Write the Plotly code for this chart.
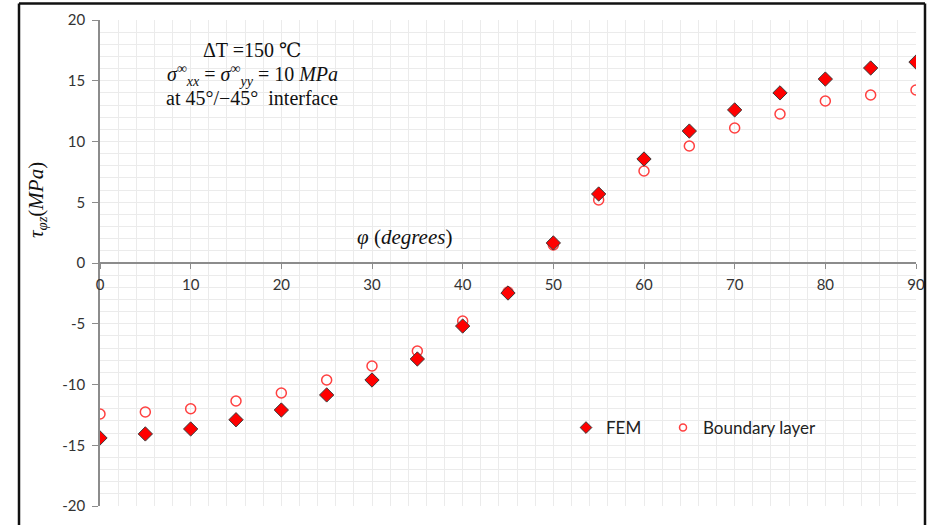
import plotly.graph_objects as go

phi = [0, 5, 10, 15, 20, 25, 30, 35, 40, 45, 50, 55, 60, 65, 70, 75, 80, 85, 90]
fem = [-14.4, -14.07, -13.66, -12.9, -12.1, -10.86, -9.63, -7.9, -5.19, -2.47,
       1.65, 5.68, 8.56, 10.86, 12.6, 14.0, 15.14, 16.05, 16.54]
boundary_layer = [-12.43, -12.26, -12.0, -11.36, -10.7, -9.63, -8.48, -7.24, -4.77, -2.39,
                  1.48, 5.19, 7.57, 9.63, 11.11, 12.26, 13.33, 13.83, 14.24]

x_ticks = [0, 10, 20, 30, 40, 50, 60, 70, 80, 90]
x_tick_labels = ["0", "10", "20", "30", "40", "50", "60", "70", "80", "90"]
y_ticks = [-20, -15, -10, -5, 0, 5, 10, 15, 20]
y_tick_labels = ["-20", "-15", "-10", "-5", "0", "5", "10", "15", "20"]

y_range = [-20, 20]
x_range = [0, 90]

circ = dict(symbol="circle-open", color="#FF4040", line=dict(color="#FF4040", width=1.5))
diam = dict(symbol="diamond", color="#FF0000", line=dict(color="#3a3a3a", width=1))

fig = go.Figure()
fig.add_trace(go.Scatter(x=phi, y=boundary_layer, mode="markers", name="Boundary layer",
                         showlegend=False, marker=dict(size=10, **circ)))
fig.add_trace(go.Scatter(x=phi, y=fem, mode="markers", name="FEM",
                         showlegend=False, marker=dict(size=11, **diam)))
# legend entries (smaller symbols, as in the reference)
fig.add_trace(go.Scatter(x=[None], y=[None], mode="markers", name="FEM",
                         legend="legend", marker=dict(size=9, **diam)))
fig.add_trace(go.Scatter(x=[None], y=[None], mode="markers", name="Boundary layer",
                         legend="legend2", marker=dict(size=7, **circ)))

grid = "#ebebeb"
tickfont = dict(family="Lato, Open Sans, sans-serif", size=15, color="#333333")
legfont = dict(family="Lato, Open Sans, sans-serif", size=17, color="#222222")
leg_y = (506 - 428) / 486

fig.update_layout(
    width=928, height=525,
    margin=dict(l=100, r=12, t=20, b=19, autoexpand=False),
    paper_bgcolor="white", plot_bgcolor="white",
    showlegend=True,
    legend=dict(x=(566 - 100) / 816, y=leg_y, xanchor="left", yanchor="middle",
                font=legfont, bgcolor="rgba(0,0,0,0)"),
    legend2=dict(x=(663 - 100) / 816, y=leg_y, xanchor="left", yanchor="middle",
                 font=legfont, bgcolor="rgba(0,0,0,0)"),
    xaxis=dict(range=x_range, tickvals=x_ticks, ticktext=x_tick_labels,
               showgrid=True, gridcolor=grid, gridwidth=1,
               minor=dict(dtick=2, tick0=0, showgrid=True, gridcolor=grid, gridwidth=1),
               showline=True, linecolor="#8c8c8c", linewidth=1.5,
               ticks="outside", ticklen=5, tickcolor="#8c8c8c",
               anchor="free",
               position=(0 - y_range[0]) / (y_range[1] - y_range[0]),
               zeroline=False, tickfont=tickfont, automargin=False, ticklabelstandoff=3),
    yaxis=dict(range=y_range, tickvals=y_ticks, ticktext=y_tick_labels,
               showgrid=True, gridcolor=grid, gridwidth=1,
               minor=dict(dtick=1, tick0=0, showgrid=True, gridcolor=grid, gridwidth=1),
               showline=True, linecolor="#8c8c8c", linewidth=1.5,
               ticks="outside", ticklen=6, tickcolor="#8c8c8c",
               zeroline=False, tickfont=tickfont, ticklabelstandoff=4, automargin=False),
)

serif = "Liberation Serif, DejaVu Serif, serif"
cx = (252 - 100) / 816
annotations = [
    dict(text="ΔT =150 ℃", x=cx, y=(506 - 50) / 486),
    dict(text="<i>σ</i><sup>∞</sup><sub><i>xx</i></sub> = <i>σ</i><sup>∞</sup><sub><i>yy</i></sub> = 10 <i>MPa</i>",
         x=cx, y=(506 - 75) / 486),
    dict(text="at 45°/−45°  interface", x=cx, y=(506 - 98) / 486),
]
for a in annotations:
    fig.add_annotation(xref="paper", yref="paper", xanchor="center", yanchor="middle",
                       showarrow=False, font=dict(family=serif, size=20, color="#111111"), **a)

fig.add_annotation(xref="paper", yref="paper", x=(404 - 100) / 816, y=(506 - 237) / 486,
                   xanchor="center", yanchor="middle",
                   text="<i>φ</i> (<i>degrees</i>)", showarrow=False,
                   font=dict(family=serif, size=21, color="#111111"))
fig.add_annotation(xref="paper", yref="paper", x=(37 - 100) / 816, y=(506 - 200) / 486,
                   xanchor="center", yanchor="middle",
                   text="<i>τ</i><sub><i>φz</i></sub>(<i>MPa</i>)", showarrow=False, textangle=-90,
                   font=dict(family=serif, size=21, color="#111111"))

# outer frame
fx0 = (19 - 100) / 816
fx1 = (925 - 100) / 816
fy1 = (506 - 3.5) / 486
for x0, y0, x1, y1 in [(fx0, fy1, fx1, fy1), (fx0, -0.2, fx0, fy1), (fx1, -0.2, fx1, fy1)]:
    fig.add_shape(type="line", xref="paper", yref="paper", x0=x0, y0=y0, x1=x1, y1=y1,
                  line=dict(color="#111111", width=2.5))

fig.write_html("out.html", config={"displayModeBar": False},
               post_script="document.body.style.margin='0';document.body.style.overflow='hidden';")
